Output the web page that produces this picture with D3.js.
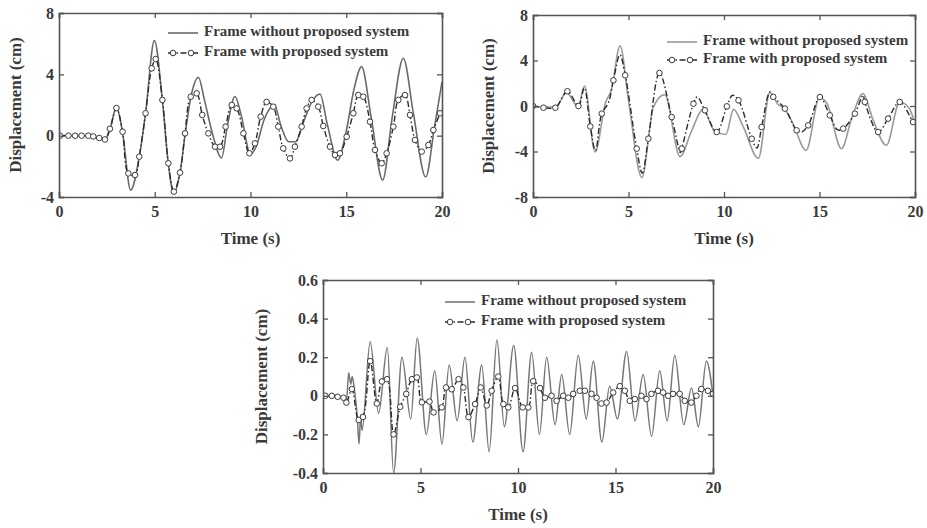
<!DOCTYPE html>
<html>
<head>
<meta charset="utf-8">
<script src="https://cdn.jsdelivr.net/npm/d3@7"></script>
<style>
  html, body { margin: 0; padding: 0; background: #fff; }
  svg { display: block; }
  text { font-family: "Liberation Serif", "Times New Roman", serif; fill: #3a3a3a; }
</style>
</head>
<body>
<svg id="chart" width="927" height="528"></svg>
<script>
// ---------------- DATA ----------------
const xTicks = [0, 5, 10, 15, 20];
const legendLabels = ["Frame without proposed system", "Frame with proposed system"];
const xTitle = "Time (s)";
const yTitle = "Displacement (cm)";

// Panel 1 (top-left)
const p1YTicks = [-4, 0, 4, 8];
const p1Without = [[0,0],[1,0],[1.8,-0.05],[2.4,-0.25],[2.66,0.4],[3.0,1.85],[3.32,0.2],[3.74,-3.55],[4.19,-1.4],[4.52,1.45],[4.98,6.2],[5.4,2.3],[5.71,-1.85],[6.0,-3.75],[6.32,-2.4],[6.6,0.2],[6.9,2.6],[7.28,3.8],[7.6,2.3],[8.0,0.2],[8.49,-1.45],[8.8,0.7],[9.19,2.55],[9.5,1.4],[10.0,-1.2],[10.3,-0.7],[10.7,1.0],[11.25,2.0],[11.6,0.6],[12.0,-0.4],[12.35,-0.4],[12.8,1.0],[13.2,2.2],[13.63,2.72],[14.0,0.8],[14.55,-1.6],[15.0,0.3],[15.4,3.0],[15.8,4.5],[16.3,1.2],[16.9,-2.9],[17.4,1.2],[17.98,5.05],[18.5,1.5],[19.15,-2.7],[19.6,0.5],[20,3.5]];
const p1Markers = [[0.05,0],[0.49,0],[0.84,0],[1.18,0],[1.53,0],[1.79,-0.05],[2.1,-0.15],[2.4,-0.25],[2.66,0.45],[3.0,1.8],[3.32,0.26],[3.62,-2.46],[3.97,-2.57],[4.19,-1.37],[4.52,1.46],[4.84,4.39],[5.05,5.0],[5.4,2.33],[5.71,-1.8],[6.0,-3.65],[6.32,-2.41],[6.58,0.15],[6.88,2.54],[7.19,2.76],[7.48,1.35],[7.8,0.15],[8.15,-0.72],[8.41,-0.72],[8.7,0.59],[9.02,2.0],[9.28,1.78],[9.63,0.15],[9.94,-1.15],[10.23,-0.5],[10.53,1.24],[10.84,2.2],[11.19,1.89],[11.45,0.59],[11.71,-0.83],[12.06,-1.48],[12.32,-0.72],[12.67,0.59],[12.93,1.78],[13.19,2.33],[13.54,1.89],[13.8,0.63],[14.15,-0.72],[14.41,-1.26],[14.67,-1.15],[15.02,-0.07],[15.37,1.46],[15.63,2.65],[15.89,2.54],[16.24,0.91],[16.5,-0.93],[16.85,-1.8],[17.11,-1.15],[17.46,0.59],[17.72,2.33],[18.07,2.65],[18.33,1.35],[18.59,-0.28],[18.94,-1.04],[19.29,-0.61],[19.55,0.37],[19.9,1.46]];
const p1WithLine = p1Markers;

// Panel 2 (top-right)
const p2YTicks = [-8, -4, 0, 4, 8];
const p2Without = [[0,0],[0.6,-0.1],[1.2,-0.1],[1.75,1.2],[2.35,-0.05],[2.7,1.75],[3.25,-4.05],[3.8,0.3],[4.1,1.4],[4.56,5.3],[5.0,0.5],[5.7,-6.3],[6.3,-0.1],[6.9,1.0],[7.7,-4.45],[8.3,-2.2],[8.9,-0.3],[9.5,-2.2],[10.1,-2.5],[10.5,-0.3],[11.0,-1.8],[11.8,-4.6],[12.4,1.2],[12.8,0.2],[13.2,-0.3],[13.6,-1.5],[14.3,-3.9],[15.0,0.75],[15.4,0.2],[16.15,-3.75],[16.7,-1.0],[17.28,1.1],[17.8,-1.2],[18.5,-3.45],[19.2,0.35],[19.7,-0.2],[20,-1.6]];
const p2WithLine = [[0,0],[0.55,-0.15],[1.17,-0.15],[1.8,1.3],[2.38,0],[2.68,1.6],[3.0,-1.8],[3.27,-3.9],[3.6,-0.67],[3.95,0.3],[4.21,2.26],[4.55,4.5],[4.83,2.7],[5.43,-3.75],[5.72,-5.9],[6.04,-2.87],[6.62,2.9],[7.26,-0.97],[7.72,-4.1],[7.79,-3.75],[8.4,0.2],[8.6,0.8],[9.0,-0.38],[9.62,-2.29],[10.15,-0.03],[10.45,0.95],[10.76,0.5],[11.45,-2.88],[11.72,-3.7],[11.97,-1.85],[12.4,1.23],[12.58,0.8],[13.19,-0.23],[13.8,-2.14],[14.05,-2.3],[14.41,-1.7],[15.02,0.79],[15.54,-0.82],[15.95,-2.1],[16.24,-1.99],[16.85,-0.67],[17.28,0.95],[17.37,0.36],[18.07,-2.29],[18.59,-1.11],[19.2,0.35],[19.9,-1.41],[20,-1.6]];
const p2Markers = [[0,0],[0.55,-0.15],[1.17,-0.15],[1.8,1.3],[2.38,0],[3.0,-1.8],[3.6,-0.67],[4.21,2.26],[4.83,2.7],[5.43,-3.75],[6.04,-2.87],[6.62,2.9],[7.26,-0.97],[7.79,-3.75],[8.4,0.2],[9.0,-0.38],[9.62,-2.29],[10.15,-0.03],[10.76,0.5],[11.45,-2.88],[11.97,-1.85],[12.58,0.8],[13.19,-0.23],[13.8,-2.14],[14.41,-1.7],[15.02,0.79],[15.54,-0.82],[16.24,-1.99],[16.85,-0.67],[17.37,0.36],[18.07,-2.29],[18.59,-1.11],[19.2,0.35],[19.9,-1.41]];

// Panel 3 (bottom)
const p3YTicks = [-0.4, -0.2, 0, 0.2, 0.4, 0.6];
const p3Without = [[0,0],[0.5,0],[1.0,-0.01],[1.2,-0.03],[1.32,0.12],[1.42,0.06],[1.5,0.1],[1.6,0.04],[1.75,-0.1],[1.85,-0.25],[1.93,-0.1],[2.0,-0.18],[2.42,0.28],[2.85,-0.09],[3.3,0.25],[3.62,-0.4],[4.05,0.2],[4.5,-0.12],[4.83,0.3],[5.3,-0.2],[5.73,0.13],[6.1,-0.25],[6.47,0.16],[6.88,-0.13],[7.28,0.2],[7.68,-0.24],[8.14,0.16],[8.52,-0.29],[8.92,0.29],[9.3,-0.16],[9.78,0.26],[10.26,-0.29],[10.7,0.225],[11.1,-0.2],[11.47,0.2],[11.9,-0.15],[12.24,0.11],[12.65,-0.2],[13.09,0.21],[13.5,-0.12],[13.86,0.18],[14.3,-0.24],[14.7,0.05],[15.1,-0.12],[15.57,0.23],[16.0,-0.13],[16.42,0.11],[16.85,-0.21],[17.27,0.13],[17.65,-0.13],[18.04,0.21],[18.5,-0.15],[18.9,0.04],[19.25,-0.16],[19.66,0.18],[20,0.0]];
const p3Markers = [[0.12,0],[0.45,0],[0.75,-0.005],[1.05,-0.01],[1.2,-0.035],[1.48,0.035],[1.83,-0.125],[2.05,-0.11],[2.42,0.18],[2.76,-0.04],[3.02,0.074],[3.28,0.086],[3.62,-0.2],[3.96,-0.057],[4.27,0.01],[4.56,0.086],[4.81,0.095],[5.07,-0.034],[5.46,-0.03],[5.67,-0.086],[6.09,-0.06],[6.31,0.043],[6.6,0.034],[6.95,0.086],[7.2,0.043],[7.46,-0.11],[7.8,-0.043],[8.09,0.043],[8.4,-0.05],[8.65,0.026],[8.99,0.1],[9.25,-0.043],[9.5,-0.06],[9.85,0.04],[10.24,-0.06],[10.53,-0.06],[10.78,0.076],[11.13,0.04],[11.38,-0.01],[11.72,0],[11.98,-0.026],[12.32,0],[12.58,-0.01],[12.83,0.01],[13.17,0.026],[13.43,0.026],[13.77,0.01],[14.03,-0.01],[14.28,-0.04],[14.54,-0.035],[14.88,0.017],[15.22,0.05],[15.48,0.026],[15.73,-0.026],[15.99,-0.017],[16.33,0],[16.59,-0.017],[16.84,0.01],[17.18,0.026],[17.44,0.017],[17.7,0],[17.95,0.01],[18.29,0.01],[18.55,-0.026],[18.89,-0.035],[19.15,0],[19.4,0.035],[19.74,0.026],[20,0.01]];
const p3WithLine = p3Markers;

// ---------------- DRAW ----------------
const svg = d3.select("#chart");

function panel(cfg) {
  const g = svg.append("g");
  const x = d3.scaleLinear().domain([0, 20]).range([cfg.left, cfg.right]);
  const y = d3.scaleLinear().domain(cfg.yDomain).range([cfg.bottom, cfg.top]);
  const clipId = "clip" + cfg.id;
  svg.append("clipPath").attr("id", clipId).append("rect")
    .attr("x", cfg.left).attr("y", cfg.top)
    .attr("width", cfg.right - cfg.left).attr("height", cfg.bottom - cfg.top);

  const plot = g.append("g").attr("clip-path", `url(#${clipId})`);
  const lineWithout = d3.line().x(d => x(d[0])).y(d => y(d[1])).curve(d3.curveMonotoneX);
  const lineWith = d3.line().x(d => x(d[0])).y(d => y(d[1])).curve(d3.curveCatmullRom.alpha(0.5));

  plot.append("path").datum(cfg.without).attr("d", lineWithout)
    .attr("fill", "none").attr("stroke", cfg.grey).attr("stroke-width", cfg.greyW);
  plot.append("path").datum(cfg.withLine).attr("d", lineWith)
    .attr("fill", "none").attr("stroke", "#2a2a2a").attr("stroke-width", 1.4)
    .attr("stroke-dasharray", "6,2.5,1.5,2.5");
  plot.selectAll("circle.m").data(cfg.markers).enter().append("circle")
    .attr("cx", d => x(d[0])).attr("cy", d => y(d[1])).attr("r", 2.8)
    .attr("fill", "#fff").attr("stroke", "#3a3a3a").attr("stroke-width", 1);

  // axes (ticks inward on all four sides)
  const fmt = d => String(d);
  const axB = d3.axisBottom(x).tickValues(xTicks).tickSize(-5).tickPadding(9).tickFormat(fmt);
  const axT = d3.axisTop(x).tickValues(xTicks).tickSize(-5).tickFormat("");
  const axL = d3.axisLeft(y).tickValues(cfg.yTicks).tickSize(-5).tickPadding(5).tickFormat(fmt);
  const axR = d3.axisRight(y).tickValues(cfg.yTicks).tickSize(-5).tickFormat("");
  const styleAx = sel => {
    sel.select(".domain").attr("stroke", "#555").attr("stroke-width", 1.6);
    sel.selectAll(".tick line").attr("stroke", "#555").attr("stroke-width", 1.3);
    sel.selectAll(".tick text").attr("font-size", 16).attr("font-weight", "bold")
      .attr("fill", "#3a3a3a").style("font-family", '"Liberation Serif", serif');
  };
  g.append("g").attr("transform", `translate(0,${cfg.bottom})`).call(axB).call(styleAx);
  g.append("g").attr("transform", `translate(0,${cfg.top})`).call(axT).call(styleAx);
  g.append("g").attr("transform", `translate(${cfg.left},0)`).call(axL).call(styleAx);
  g.append("g").attr("transform", `translate(${cfg.right},0)`).call(axR).call(styleAx);

  // titles
  g.append("text").attr("x", (cfg.left + cfg.right) / 2).attr("y", cfg.bottom + 47)
    .attr("text-anchor", "middle").attr("font-size", 17).attr("font-weight", "bold").text(xTitle);
  g.append("text").attr("transform", `translate(${cfg.yTitleX},${(cfg.top + cfg.bottom) / 2}) rotate(-90)`)
    .attr("text-anchor", "middle").attr("dominant-baseline", "middle")
    .attr("font-size", 17).attr("font-weight", "bold").text(yTitle);

  // legend
  const lg = g.append("g");
  const r1 = cfg.legY, r2 = cfg.legY + cfg.legGap;
  lg.append("line").attr("x1", cfg.legX).attr("x2", cfg.legX + 30).attr("y1", r1).attr("y2", r1)
    .attr("stroke", cfg.grey).attr("stroke-width", 1.6);
  lg.append("line").attr("x1", cfg.legX).attr("x2", cfg.legX + 30).attr("y1", r2).attr("y2", r2)
    .attr("stroke", "#2a2a2a").attr("stroke-width", 1.4).attr("stroke-dasharray", "6,2.5,1.5,2.5");
  [cfg.legX + 5, cfg.legX + 23].forEach(cx => lg.append("circle").attr("cx", cx).attr("cy", r2).attr("r", 2.8)
    .attr("fill", "#fff").attr("stroke", "#3a3a3a").attr("stroke-width", 1));
  lg.selectAll("text.l").data(legendLabels).enter().append("text")
    .attr("x", cfg.legX + 36).attr("y", (d, i) => i === 0 ? r1 : r2)
    .attr("dominant-baseline", "middle").attr("font-size", 15).attr("font-weight", "bold").text(d => d);
}

panel({id: 1, left: 59, right: 442, top: 13, bottom: 197, yDomain: [-4, 8], yTicks: p1YTicks,
  without: p1Without, withLine: p1WithLine, markers: p1Markers, grey: "#6a6a6a", greyW: 1.6,
  yTitleX: 17, legX: 168, legY: 33, legGap: 20});
panel({id: 2, left: 533, right: 915, top: 15, bottom: 197, yDomain: [-8, 8], yTicks: p2YTicks,
  without: p2Without, withLine: p2WithLine, markers: p2Markers, grey: "#9a9a9a", greyW: 1.6,
  yTitleX: 490, legX: 667, legY: 42, legGap: 18});
panel({id: 3, left: 323, right: 713, top: 280, bottom: 473, yDomain: [-0.4, 0.6], yTicks: p3YTicks,
  without: p3Without, withLine: p3WithLine, markers: p3Markers, grey: "#777", greyW: 1.5,
  yTitleX: 263, legX: 445, legY: 302, legGap: 20});
</script>
</body>
</html>
